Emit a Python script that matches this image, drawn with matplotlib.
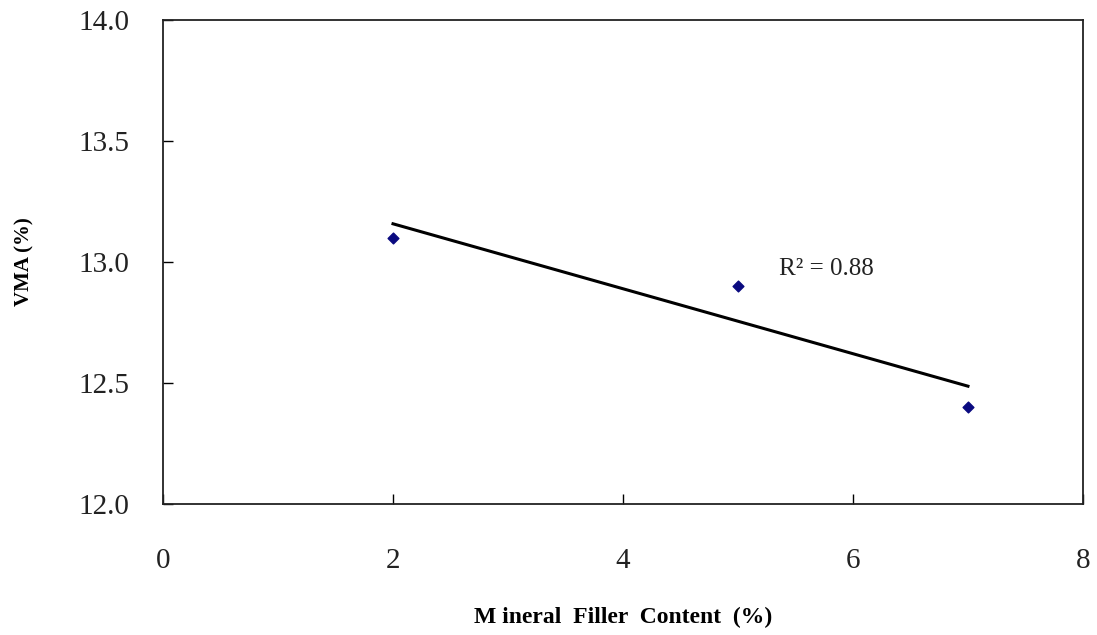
import matplotlib.pyplot as plt
import numpy as np

plt.rcParams['font.family'] = ['Liberation Serif', 'DejaVu Serif']

filler = [2, 5, 7]
vma = [13.1, 12.9, 12.4]

xticks = [0, 2, 4, 6, 8]
yticks = [12.0, 12.5, 13.0, 13.5, 14.0]

# least squares trend line
slope, intercept = np.polyfit(filler, vma, 1)
fit = np.polyval([slope, intercept], filler)
r2 = 1 - np.sum((np.array(vma) - fit) ** 2) / np.sum((np.array(vma) - np.mean(vma)) ** 2)

fig = plt.figure(figsize=(10.97, 6.35), dpi=100)
ax = fig.add_axes([0.1486, 0.2063, 0.8386, 0.7622])

xs = np.array([filler[0], filler[-1]])
ax.plot(xs, slope * xs + intercept, color='black', lw=2.2)
ax.scatter(filler, vma, marker='D', s=30, color='#0a0a80', zorder=3)

ax.text(5.36, 12.97, 'R\u00b2 = %.2f' % r2, fontsize=18, color='#222222', va='center')

ax.set_xlim(0, 8)
ax.set_ylim(12.0, 14.0)
ax.set_xticks(xticks)
ax.set_yticks(yticks)
ax.set_yticklabels(['%.1f' % v for v in yticks])
ax.tick_params(axis='y', direction='in', length=7, width=1, pad=24, labelsize=21,
               labelcolor='#222222', right=False)
ax.tick_params(axis='x', direction='in', length=7, width=1, pad=32, labelsize=21,
               labelcolor='#222222', top=False)
for s in ax.spines.values():
    s.set_linewidth(1.3)
    s.set_color('#222222')

ax.set_xlabel('M ineral  Filler  Content  (%)', fontsize=17, fontweight='bold', labelpad=23)
ax.set_ylabel('VMA (%)', fontsize=15, fontweight='bold', labelpad=32)

fig.savefig('out.png', dpi=100)
